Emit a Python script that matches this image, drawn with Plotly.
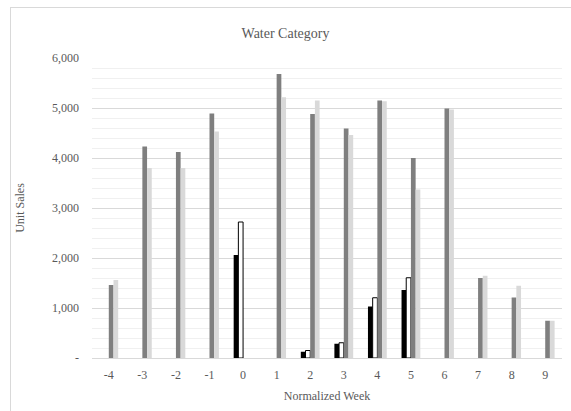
import plotly.graph_objects as go

weeks = ["-4", "-3", "-2", "-1", "0", "1", "2", "3", "4", "5", "6", "7", "8", "9"]

# Four series per normalized week (None = no bar for that week)
series_black = [None, None, None, None, 2060, None, 125, 285, 1030, 1360, None, None, None, None]
series_white = [None, None, None, None, 2720, None, 150, 305, 1205, 1605, None, None, None, None]
series_dark = [1460, 4230, 4120, 4890, None, 5680, 4880, 4590, 5150, 4000, 4990, 1600, 1210, 745]
series_light = [1560, 3800, 3800, 4530, None, 5215, 5150, 4460, 5135, 3370, 4970, 1645, 1445, 745]

y_ticks = [0, 1000, 2000, 3000, 4000, 5000, 6000]
y_tick_text = ["-", "1,000", "2,000", "3,000", "4,000", "5,000", "6,000"]

font_family = "Liberation Serif"
text_color = "#595959"
frame_color = "#d9d9d9"

# Figure size; the outer region starts at the chart frame (left 11px, top 8px)
W, H = 571, 411
FL, FT = 11, 8
RW, RH = W - FL, H - FT
# inner plot area in pixels
PX0, PX1 = 92, 562
PY0, PY1 = 58, 358
x_domain = [(PX0 - FL) / RW, (PX1 - FL) / RW]
y_domain = [(H - PY1) / RH, (H - PY0) / RH]

fig = go.Figure()
fig.add_trace(go.Bar(x=weeks, y=series_black, marker=dict(color="#000000", line=dict(width=0))))
fig.add_trace(go.Bar(x=weeks, y=series_white, marker=dict(color="#ffffff", line=dict(color="#000000", width=1))))
fig.add_trace(go.Bar(x=weeks, y=series_dark, marker=dict(color="#7f7f7f", line=dict(width=0))))
fig.add_trace(go.Bar(x=weeks, y=series_light, marker=dict(color="#d9d9d9", line=dict(width=0))))

# empty helper subplot spanning the whole chart area; its axis lines form the frame
fig.add_trace(go.Scatter(
    x=[0.5], y=[0.5], xaxis="x2", yaxis="y2",
    mode="markers", marker=dict(opacity=0, size=1),
    hoverinfo="skip", showlegend=False,
))

fig.update_layout(
    width=W,
    height=H,
    margin=dict(l=FL, r=0, t=FT, b=0),
    paper_bgcolor="#ffffff",
    plot_bgcolor="rgba(0,0,0,0)",
    showlegend=False,
    barmode="group",
    bargap=0.44,
    bargroupgap=0,
    font=dict(family=font_family, size=12, color=text_color),
    title=dict(
        text="Water Category",
        x=0.5, xanchor="center",
        y=1 - 33 / H, yanchor="middle",
        font=dict(family=font_family, size=14, color=text_color),
    ),
    xaxis=dict(
        type="category",
        domain=x_domain,
        anchor="y",
        automargin=False,
        showgrid=False,
        showline=True,
        linecolor=frame_color,
        linewidth=1,
        ticks="",
        ticklabelstandoff=6,
        tickfont=dict(family=font_family, size=12, color=text_color),
        title=dict(text="Normalized Week", font=dict(family=font_family, size=12, color=text_color), standoff=10),
    ),
    yaxis=dict(
        range=[0, 6000],
        domain=y_domain,
        anchor="x",
        automargin=False,
        tickvals=y_ticks,
        ticktext=y_tick_text,
        showgrid=True,
        gridcolor="#d9d9d9",
        gridwidth=1,
        zeroline=False,
        showline=False,
        ticks="",
        ticklabelstandoff=12,
        tickfont=dict(family=font_family, size=12, color=text_color),
        minor=dict(dtick=200, showgrid=True, gridcolor="#f0f0f0", gridwidth=1),
        title=dict(text="Unit Sales", font=dict(family=font_family, size=12, color=text_color), standoff=24),
    ),
    xaxis2=dict(
        domain=[0, 1], anchor="y2", side="top", range=[0, 1],
        showline=True, linecolor=frame_color, linewidth=1, mirror=False,
        showgrid=False, zeroline=False, showticklabels=False, ticks="",
        automargin=False, fixedrange=True,
    ),
    yaxis2=dict(
        domain=[0, 1], anchor="x2", side="left", range=[0, 1],
        showline=True, linecolor=frame_color, linewidth=1, mirror=False,
        showgrid=False, zeroline=False, showticklabels=False, ticks="",
        automargin=False, fixedrange=True,
    ),
)

fig.write_html("out.html")
